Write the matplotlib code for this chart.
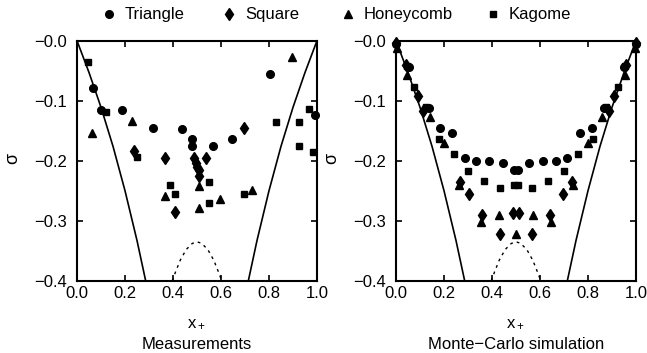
from matplotlib import pyplot as plt
from matplotlib.lines import Line2D

plt.rcParams['font.family'] = ['Liberation Sans', 'DejaVu Sans']
plt.rcParams['mathtext.default'] = 'regular'

# ---- measurements (left panel) ----
meas_tri_x = [0.068, 0.100, 0.189, 0.318, 0.436, 0.481, 0.481, 0.567, 0.647, 0.806, 0.99]
meas_tri_y = [-0.079, -0.116, -0.116, -0.145, -0.147, -0.164, -0.175, -0.175, -0.164, -0.055, -0.124]

meas_sq_x = [0.239, 0.367, 0.408, 0.488, 0.496, 0.502, 0.507, 0.507, 0.536, 0.697]
meas_sq_y = [-0.183, -0.195, -0.285, -0.195, -0.204, -0.210, -0.216, -0.225, -0.195, -0.145]

meas_hc_x = [0.064, 0.229, 0.367, 0.508, 0.508, 0.597, 0.728, 0.897]
meas_hc_y = [-0.154, -0.133, -0.258, -0.243, -0.278, -0.264, -0.249, -0.028]

meas_kg_x = [0.047, 0.119, 0.249, 0.389, 0.410, 0.549, 0.549, 0.697, 0.829, 0.926, 0.926, 0.965, 0.985]
meas_kg_y = [-0.035, -0.119, -0.194, -0.240, -0.255, -0.235, -0.270, -0.255, -0.135, -0.135, -0.175, -0.114, -0.185]

# ---- Monte-Carlo (right panel) ----
mc_tri_x = [0.0, 0.055, 0.138, 0.183, 0.232, 0.288, 0.333, 0.388, 0.447, 0.49, 0.51,
            0.553, 0.612, 0.667, 0.712, 0.768, 0.817, 0.865, 0.948, 1.0]
mc_tri_y = [-0.005, -0.044, -0.113, -0.146, -0.153, -0.195, -0.200, -0.200, -0.203, -0.216, -0.216,
            -0.203, -0.200, -0.200, -0.195, -0.153, -0.146, -0.113, -0.044, -0.005]

mc_sq_x = [0.0, 0.040, 0.093, 0.114, 0.268, 0.304, 0.360, 0.433, 0.486, 0.514,
           0.567, 0.640, 0.696, 0.732, 0.886, 0.907, 0.960, 1.0]
mc_sq_y = [-0.004, -0.040, -0.093, -0.118, -0.236, -0.255, -0.290, -0.322, -0.288, -0.288,
           -0.322, -0.290, -0.255, -0.236, -0.118, -0.093, -0.040, -0.004]

mc_hc_x = [0.005, 0.047, 0.142, 0.200, 0.262, 0.354, 0.430, 0.500, 0.570, 0.646,
           0.738, 0.800, 0.858, 0.953, 0.995]
mc_hc_y = [-0.012, -0.057, -0.127, -0.171, -0.240, -0.302, -0.290, -0.322, -0.290, -0.302,
           -0.240, -0.171, -0.127, -0.057, -0.012]

mc_kg_x = [0.044, 0.076, 0.125, 0.180, 0.243, 0.299, 0.367, 0.433, 0.49, 0.51,
           0.567, 0.633, 0.701, 0.757, 0.820, 0.875, 0.924, 0.956]
mc_kg_y = [-0.043, -0.077, -0.110, -0.164, -0.188, -0.217, -0.234, -0.245, -0.241, -0.241,
           -0.245, -0.234, -0.217, -0.188, -0.164, -0.110, -0.077, -0.043]

# bounding curves
bound_left_x = [0.0, 0.05, 0.10, 0.15, 0.20, 0.25, 0.286]
bound_left_y = [0.0, -0.053, -0.111, -0.176, -0.250, -0.333, -0.400]
bound_right_x = [0.714, 0.75, 0.80, 0.85, 0.90, 0.95, 1.0]
bound_right_y = [-0.400, -0.333, -0.250, -0.176, -0.111, -0.053, 0.0]
dash_x = [0.397, 0.41, 0.43, 0.455, 0.48, 0.5, 0.52, 0.545, 0.57, 0.59, 0.603]
dash_y = [-0.400, -0.386, -0.366, -0.348, -0.338, -0.335, -0.338, -0.348, -0.366, -0.386, -0.400]

xticks = [0.0, 0.2, 0.4, 0.6, 0.8, 1.0]
xticklabels = ['0.0', '0.2', '0.4', '0.6', '0.8', '1.0']
yticks = [0.0, -0.1, -0.2, -0.3, -0.4]
yticklabels = ['\u22120.0', '\u22120.1', '\u22120.2', '\u22120.3', '\u22120.4']

labels = ['Triangle', 'Square', 'Honeycomb', 'Kagome']
markers = ['o', 'd', '^', 's']
msizes = [5.5, 6.5, 6, 5]
# legend marker positions (pixels from left)
legend_px = [109, 229, 348, 493]

W, H = 647, 353
fig = plt.figure(figsize=(6.47, 3.53), dpi=100)
ax1 = fig.add_axes([77 / W, (H - 280.7) / H, 240 / W, 240 / H])
ax2 = fig.add_axes([396 / W, (H - 280.7) / H, 240 / W, 240 / H])

def draw(ax, series, title):
	for (xs, ys), m, ms in zip(series, markers, msizes):
		ax.plot(xs, ys, ls='none', marker=m, ms=ms, color='black', clip_on=False)
	ax.plot(bound_left_x, bound_left_y, color='black', lw=1.2)
	ax.plot(bound_right_x, bound_right_y, color='black', lw=1.2)
	ax.plot(dash_x, dash_y, color='black', lw=1.0, ls=(0, (2, 3)))
	ax.set_xlim(0, 1)
	ax.set_ylim(-0.4, 0)
	ax.set_xticks(xticks)
	ax.set_xticklabels(xticklabels)
	ax.set_yticks(yticks)
	ax.set_yticklabels(yticklabels)
	ax.tick_params(direction='in', top=True, right=True, length=4, width=1.2, labelsize=12)
	ax.tick_params(axis='x', pad=4)
	ax.tick_params(axis='y', pad=7)
	for s in ax.spines.values():
		s.set_linewidth(1.5)
	ax.text(0.5, -0.193, 'x$_+$', transform=ax.transAxes, ha='center', va='baseline', fontsize=12)
	ax.text(0.5, -0.285, title, transform=ax.transAxes, ha='center', va='baseline', fontsize=12)
	ax.set_ylabel('\u03c3', fontsize=13)
	ax.yaxis.set_label_coords(-0.232, 0.511)

draw(ax1, [(meas_tri_x, meas_tri_y), (meas_sq_x, meas_sq_y), (meas_hc_x, meas_hc_y),
	(meas_kg_x, meas_kg_y)], 'Measurements')
draw(ax2, [(mc_tri_x, mc_tri_y), (mc_sq_x, mc_sq_y), (mc_hc_x, mc_hc_y),
	(mc_kg_x, mc_kg_y)], 'Monte\u2212Carlo simulation')

# legend row along the top
ly = 1 - 14 / H
for px, m, ms, lab in zip(legend_px, markers, msizes, labels):
	fig.add_artist(Line2D([px / W], [ly], ls='none', marker=m, ms=ms, color='black',
		transform=fig.transFigure))
	fig.text((px + 16) / W, ly, lab, ha='left', va='center', fontsize=12)

plt.savefig('out.png', dpi=100)
